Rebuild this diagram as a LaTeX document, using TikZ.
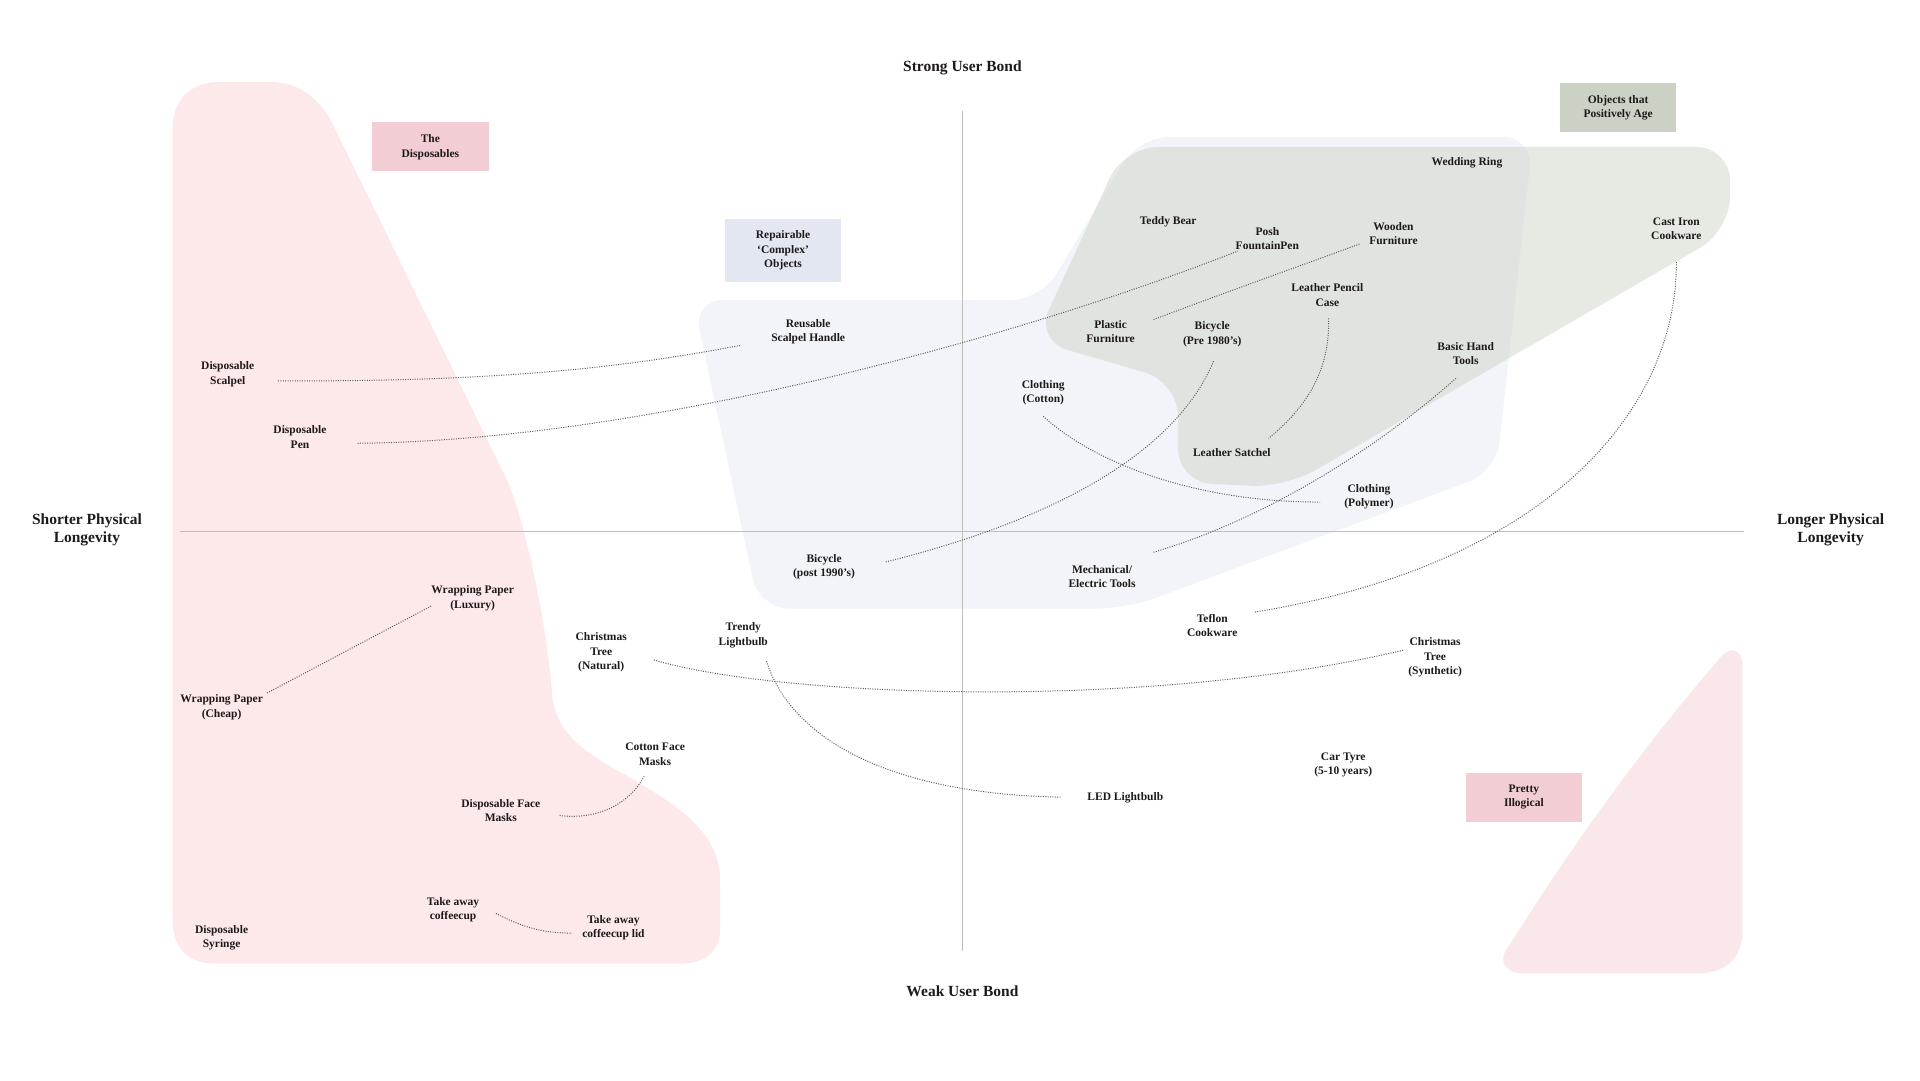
\documentclass[tikz,border=0pt]{standalone}
\usepackage{fontspec}
\setmainfont{Liberation Serif}
\usetikzlibrary{calc}
\definecolor{dispink}{HTML}{FDE8EA}
\definecolor{illpink}{HTML}{F9E7EA}
\definecolor{repblue}{HTML}{F2F4F9}
\definecolor{agegreen}{HTML}{CFD6C9}
\definecolor{boxpink}{HTML}{F2CDD4}
\definecolor{boxblue}{HTML}{E2E7F2}
\definecolor{boxgreen}{HTML}{CBD2C5}
\definecolor{axisgray}{HTML}{BDBFBA}
\definecolor{dotgray}{HTML}{5E5E5E}
\definecolor{ink}{HTML}{1E1A1A}
\begin{document}
\begin{tikzpicture}[x=1.2245pt,y=-1.2245pt,
 lbl/.style={font=\fontsize{11.5}{14.6}\selectfont\bfseries, align=center, text=ink, inner sep=0pt, yshift=-2.2pt},
 axislbl/.style={font=\fontsize{15.5}{18.5}\selectfont\bfseries, align=center, text=ink, inner sep=0pt, yshift=-2.2pt},
 catbox/.style={font=\fontsize{11.5}{14.6}\selectfont\bfseries, align=center, text=ink, inner sep=0pt, minimum width=116.3pt},
 link/.style={draw=dotgray, line width=1pt, dash pattern=on 1pt off 1.4pt}
]
\fill[white] (0,0) rectangle (1568,882);
\useasboundingbox (0,0) rectangle (1568,882);

% regions
\fill[repblue, rounded corners=30pt] (770,497) -- (620,497) -- (566,245) -- (850,245) -- (930,112) -- (1252,112) -- (1222,385) -- (920,497) -- cycle;
\fill[agegreen, fill opacity=0.5, rounded corners=34pt] (1100,120) -- (1413,120) -- (1413,188) -- (1050,398) -- (962,394) -- (962,312) -- (845,278) -- (918,120) -- cycle;
\fill[dispink] (141,104) .. controls (141,82) and (156,67) .. (178,67) -- (222,67)
  .. controls (245,67) and (262,82) .. (272,102) -- (414,392)
  .. controls (425,415) and (446,500) .. (451,569)
  .. controls (455,600) and (478,615) .. (511,633)
  .. controls (540,650) and (560,662) .. (574,680)
  .. controls (584,692) and (588,705) .. (588,720) -- (588,760)
  .. controls (588,777) and (575,787) .. (555,787) -- (176,787)
  .. controls (155,787) and (141,775) .. (141,752) -- cycle;
\fill[illpink] (1405,537) .. controls (1412,528) and (1423,528) .. (1423,545) -- (1423,760)
  .. controls (1423,782) and (1410,795) .. (1385,795) -- (1245,795)
  .. controls (1230,795) and (1222,785) .. (1232,773)
  .. controls (1284,690) and (1341,611) .. (1405,537) -- cycle;

% axes
\coordinate (vtop) at (786,91);
\coordinate (vbot) at (786,777);
\coordinate (hleft) at (147,434);
\coordinate (hright) at (1424,434);
\draw[axisgray, line width=1pt] (vtop) -- (vbot);
\draw[axisgray, line width=1pt] (hleft) -- (hright);

% axis labels
\node[axislbl] (strong) at (786,54) {Strong User Bond};
\node[axislbl] (weak) at (786,808) {Weak User Bond};
\node[axislbl] (shorter) at (71,431) {Shorter Physical\\Longevity};
\node[axislbl] (longer) at (1495,431) {Longer Physical\\Longevity};

% category boxes
\node[catbox, fill=boxpink, minimum height=49pt] (cdisp) at (351.5,120) {The\\Disposables};
\node[catbox, fill=boxblue, minimum height=62.5pt] (crep) at (639.5,204.5) {Repairable\\‘Complex’\\Objects};
\node[catbox, fill=boxgreen, minimum height=49pt] (cage) at (1321.5,88) {Objects that\\Positively Age};
\node[catbox, fill=boxpink, minimum height=49pt] (cill) at (1244.5,651) {Pretty\\Illogical};

% labels
\node[lbl] (dscalpel) at (186,304) {Disposable\\Scalpel};
\node[lbl] (dpen) at (245,355) {Disposable\\Pen};
\node[lbl] (rscalpel) at (660,269) {Reusable\\Scalpel Handle};
\node[lbl] (teddy) at (954,179) {Teddy Bear};
\node[lbl] (posh) at (1035,193) {Posh\\FountainPen};
\node[lbl] (wooden) at (1138,189) {Wooden\\Furniture};
\node[lbl] (ring) at (1198,131) {Wedding Ring};
\node[lbl] (castiron) at (1369,185) {Cast Iron\\Cookware};
\node[lbl] (pencil) at (1084,239) {Leather Pencil\\Case};
\node[lbl] (plastic) at (907,269) {Plastic\\Furniture};
\node[lbl] (bikepre) at (990,271) {Bicycle\\(Pre 1980’s)};
\node[lbl] (handtools) at (1197,287) {Basic Hand\\Tools};
\node[lbl] (cotton) at (852,319) {Clothing\\(Cotton)};
\node[lbl] (satchel) at (1006,368) {Leather Satchel};
\node[lbl] (polymer) at (1118,404) {Clothing\\(Polymer)};
\node[lbl] (bikepost) at (673,461) {Bicycle\\(post 1990’s)};
\node[lbl] (mech) at (900,469) {Mechanical/\\Electric Tools};
\node[lbl] (teflon) at (990,509) {Teflon\\Cookware};
\node[lbl] (wpluxury) at (386,487) {Wrapping Paper\\(Luxury)};
\node[lbl] (treenat) at (491,531) {Christmas\\Tree\\(Natural)};
\node[lbl] (trendy) at (607,517) {Trendy\\Lightbulb};
\node[lbl] (treesyn) at (1172,535) {Christmas\\Tree\\(Synthetic)};
\node[lbl] (wpcheap) at (181,576) {Wrapping Paper\\(Cheap)};
\node[lbl] (cottonmask) at (535,614) {Cotton Face\\Masks};
\node[lbl] (dmask) at (409,660) {Disposable Face\\Masks};
\node[lbl] (tyre) at (1097,623) {Car Tyre\\(5-10 years)};
\node[lbl] (led) at (919,650) {LED Lightbulb};
\node[lbl] (cup) at (370,741) {Take away\\coffeecup};
\node[lbl] (lid) at (501,756) {Take away\\coffeecup lid};
\node[lbl] (syringe) at (181,764) {Disposable\\Syringe};

% connector ends
\coordinate (c1a) at (227,311); \coordinate (c1b) at (605,282);
\coordinate (c2a) at (292,362); \coordinate (c2b) at (1011,205);
\coordinate (c3a) at (942,261); \coordinate (c3b) at (1111,199);
\coordinate (c4a) at (1085,260); \coordinate (c4b) at (1036,358);
\coordinate (c5a) at (991,295); \coordinate (c5b) at (723,459);
\coordinate (c6a) at (852,340); \coordinate (c6b) at (1078,410);
\coordinate (c7a) at (1189,309); \coordinate (c7b) at (942,451);
\coordinate (c8a) at (1369,214); \coordinate (c8b) at (1024,500);
\coordinate (c9a) at (218,566); \coordinate (c9b) at (352,495);
\coordinate (c10a) at (534,539); \coordinate (c10b) at (1146,531);
\coordinate (c11a) at (626,540); \coordinate (c11b) at (866,651);
\coordinate (c12a) at (457,666); \coordinate (c12b) at (526,634);
\coordinate (c13a) at (405,746); \coordinate (c13b) at (467,762);

% connectors
\draw[link] (c1a) .. controls (420,312) and (520,298) .. (c1b);
\draw[link] (c2a) .. controls (520,360) and (820,280) .. (c2b);
\draw[link] (c3a) .. controls (1000,239) and (1065,216) .. (c3b);
\draw[link] (c4a) .. controls (1086,300) and (1070,330) .. (c4b);
\draw[link] (c5a) .. controls (960,370) and (860,425) .. (c5b);
\draw[link] (c6a) .. controls (890,375) and (970,410) .. (c6b);
\draw[link] (c7a) .. controls (1120,370) and (1030,425) .. (c7b);
\draw[link] (c8a) .. controls (1370,330) and (1270,460) .. (c8b);
\draw[link] (c9a) -- (c9b);
\draw[link] (c10a) .. controls (640,570) and (940,580) .. (c10b);
\draw[link] (c11a) .. controls (645,600) and (720,648) .. (c11b);
\draw[link] (c12a) .. controls (490,670) and (515,655) .. (c12b);
\draw[link] (c13a) .. controls (425,756) and (440,762) .. (c13b);
\end{tikzpicture}
\end{document}
